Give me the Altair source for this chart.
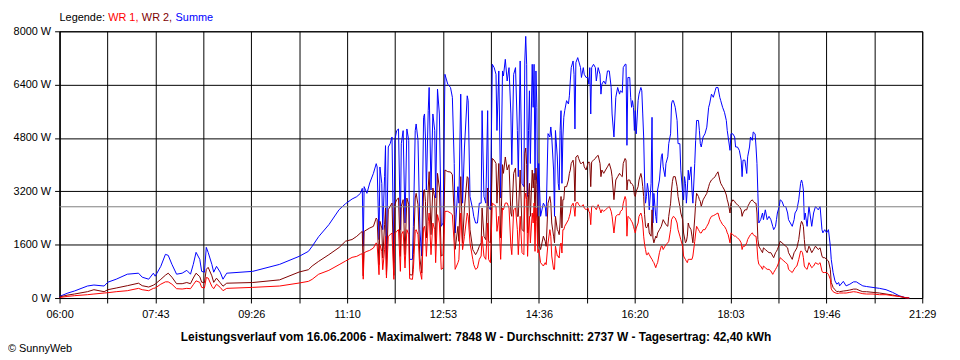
import json
import altair as alt
import pandas as pd

# ---- data (minutes after 06:00, watts) ----
minutes = [
    0, 1, 9, 16, 30, 37, 48, 52, 61, 73, 85, 89, 96, 101, 103, 109, 114, 117, 121, 126,
    132, 137, 141, 144, 147, 151, 153, 156, 158, 160, 164, 166, 169, 173, 176, 180, 208, 237, 258, 268,
    272, 279, 290, 301, 308, 315,
    320, 324, 326, 327, 328, 331, 334, 338, 341, 342, 344, 345, 347, 348, 350, 351, 352, 354, 356, 358,
    360, 361, 363, 365, 367, 368, 370, 372, 374, 376, 377, 380, 381, 383, 384, 386, 388, 390, 392,
    393, 394, 395, 397, 398, 400, 402, 404, 405, 407, 409, 411, 413, 415, 418, 421, 423, 425, 426, 429,
    430, 432, 434, 436, 439, 440, 442, 445, 446, 448, 450, 452, 454, 455, 457, 459, 461, 462, 464, 466,
    468, 470, 471, 473, 475, 477, 478, 480, 482, 484, 486, 487, 489, 491, 493, 494, 496, 498, 500,
    501, 502, 503, 504, 505, 506, 507, 509, 510, 511, 512, 513, 514, 515, 516, 517, 518, 521, 523, 524,
    526, 528, 529, 530, 532, 533, 534, 536, 537, 538, 539, 540, 541, 542, 543, 544, 546, 548, 549, 550,
    551, 553, 554, 555, 556, 558, 559, 561, 562, 564, 565, 567, 569, 570, 571, 572, 573, 575, 577, 578,
    580, 582, 583, 584, 586, 588, 590, 592, 594, 595, 597, 599, 601, 603, 604,
    606, 607, 609, 610, 611, 612, 614, 615, 616, 617, 618, 619, 620, 621, 623, 624, 626, 627, 628, 629,
    630, 631, 632, 633, 634, 635, 637, 638, 639, 640, 642, 643, 644, 646, 648, 649, 650, 652, 653, 655,
    656, 658, 659, 660, 661, 663, 665, 666, 668, 669, 671, 672, 673, 674, 675, 676, 677, 678, 680, 681,
    682, 684, 685, 686, 688, 689, 690, 691, 693, 695, 697, 699, 700, 702, 704, 706, 707, 709,
    711, 712, 714, 716, 718, 719, 720, 722, 723, 725, 727, 728, 730, 732, 734, 735, 736, 738, 740, 741,
    743, 744, 746, 747, 749, 750, 751, 752, 753, 755, 757, 758, 760, 762, 764, 766, 768, 769, 771, 772,
    773, 775, 776, 778, 780, 782, 784, 785, 787, 789, 791, 792, 794, 796, 798, 799, 800, 801, 802, 803,
    805, 807, 808, 810, 812, 814,
    817, 819, 821, 822, 824, 826, 828, 830, 831, 833, 835, 837, 839, 840, 844, 847, 851, 855, 858, 862,
    865, 869, 876, 883, 890, 897, 904, 911, 915,
]

summe = [
    30, 60, 150, 210, 360, 390, 360, 475, 565, 715, 745, 625, 565, 745, 655, 950, 1310, 1280, 1010, 715,
    745, 830, 715, 1010, 1370, 1160, 800, 775, 1520, 1370, 1010, 775, 950, 775, 565, 745, 800, 1010, 1250, 1400,
    1550, 1840, 2200, 2650, 2830, 2970,
    3040, 3140, 3290, 1555, 3340, 3140, 3450, 3740, 4030, 3930, 1750, 3930, 3440, 2050, 3640, 4570, 1160, 4530, 4630, 4830,
    1060, 4730, 5020, 5070, 2050, 4630, 5020, 2250, 5070, 4730, 1160, 1160, 2150, 5020, 5220, 4730, 2050, 1260, 5420,
    5520, 4830, 3240, 5620, 6315, 3240, 5520, 5025, 3000, 6265, 5520, 2150, 2250, 6710, 6415, 6315, 6020, 4035, 1950, 3340,
    2845, 6115, 2845, 4500, 6065, 5920, 3045, 2645, 2450, 2250, 2250, 2845, 2845, 5620, 3045, 2845, 5620, 2745, 2645, 7010,
    6910, 6710, 5025, 6810, 3000, 6810, 6660, 7160, 6510, 6910, 5520, 4000, 6710, 6910, 5025, 3640, 7110, 3440, 3340,
    7110, 7848, 7010, 3045, 5025, 6215, 4035, 7010, 5720, 7010, 3540, 6810, 5720, 2450, 4035, 3240, 2450, 2845, 2745, 2450,
    4930, 4830, 5130, 4830, 3840, 2450, 5025, 4230, 3440, 3240, 5025, 5620, 3440, 4830, 5420, 5620, 5920, 5820, 6065, 6510,
    6910, 7110, 6710, 5070, 7060, 7210, 7110, 6910, 6615, 6910, 6710, 6615, 6615, 6415, 6910, 5520, 6910, 7010, 6910, 6510,
    6910, 6710, 6115, 6415, 6510, 6415, 6810, 6810, 6315, 5520, 4830, 6020, 6315, 6115, 6215,
    6165, 6910, 7010, 7010, 4580, 6615, 6615, 6020, 5720, 5920, 5720, 5025, 5620, 4925, 5920, 6115, 6315, 6215, 5520, 4830,
    3540, 2845, 3045, 3440, 3240, 2645, 3440, 5420, 2250, 3140, 2450, 2250, 3240, 3540, 4235, 4330, 3935, 3640, 4035, 4235,
    4630, 4925, 5820, 5920, 5920, 5720, 5325, 4630, 4630, 3835, 3140, 2945, 3640, 3440, 2845, 3240, 3835, 3540, 3935, 3240,
    2845, 4035, 4730, 5325, 5325, 5025, 4630, 4530, 4830, 4925, 5125, 5720, 5820, 6115, 6020, 6215, 6315, 6315,
    6015, 5920, 5720, 5570, 5325, 5025, 4830, 4430, 4925, 4925, 4830, 4530, 4530, 4430, 4135, 3640, 4135, 4135, 3735, 4235,
    4530, 4830, 4730, 4980, 4925, 4530, 4035, 3140, 2250, 2350, 2550, 2350, 2645, 2350, 2450, 2350, 2150, 2050, 2150, 2350,
    2550, 2745, 2945, 2900, 2745, 2745, 2550, 2350, 2250, 2150, 2350, 2550, 2645, 2945, 3440, 3540, 3440, 3240, 2350, 2550,
    2150, 2745, 2550, 2150, 2550, 2745,
    2645, 2745, 2050, 1955, 2050, 1955, 2050, 1555, 1160, 765, 515, 415, 465, 365, 500, 365, 415, 485, 485, 415,
    365, 345, 317, 290, 250, 170, 70, 10, 0,
]

wr2 = [
    20, 40, 90, 120, 190, 250, 190, 250, 300, 370, 445, 370, 330, 385, 420, 560, 685, 745, 625, 430,
    430, 465, 430, 600, 745, 640, 475, 460, 860, 920, 665, 470, 595, 460, 355, 445, 465, 545, 780, 850,
    960, 1100, 1300, 1515, 1705, 1755,
    1850, 1950, 2000, 665, 2000, 2050, 2100, 2150, 2400, 2350, 1000, 2300, 2100, 1200, 2200, 2700, 700, 2650, 2750, 2850,
    680, 2800, 2950, 3000, 1250, 2750, 2950, 1300, 3000, 2800, 700, 690, 1300, 3000, 3140, 2800, 1200, 750, 3200,
    3250, 2900, 1800, 3300, 3790, 1900, 3300, 3000, 1560, 3740, 3300, 1260, 1300, 3840, 3790, 3780, 3700, 2500, 1460, 2150,
    1700, 3640, 1655, 2700, 3640, 3600, 2050, 1450, 1400, 1300, 1400, 1550, 1655, 2700, 1850, 1750, 3300, 1700, 1655, 4185,
    4135, 4035, 2845, 4035, 1800, 4000, 3740, 4230, 3840, 4000, 2550, 2450, 3740, 3900, 2450, 2450, 3840, 2050, 2000,
    4340, 4500, 4000, 1950, 3100, 3440, 2450, 3840, 3300, 3740, 2150, 3900, 3400, 1555, 2450, 1555, 1455, 1855, 1700, 1550,
    2845, 3045, 2845, 2250, 1855, 1655, 2450, 2050, 2000, 1900, 2250, 3045, 2100, 2950, 2950, 3340, 3340, 3540, 3740, 3840,
    4035, 4135, 3900, 2900, 4230, 4280, 4185, 4035, 4035, 4085, 3935, 3840, 4035, 4085, 4035, 3340, 4085, 4135, 4185, 4235,
    4280, 4035, 3640, 3840, 3740, 3840, 3935, 4035, 3840, 3640, 2950, 3540, 3640, 3740, 3690,
    3640, 4035, 4185, 4135, 3240, 3540, 3540, 3440, 3440, 3400, 3340, 3100, 3045, 3200, 3340, 3540, 3735, 3600, 3340, 3045,
    2500, 2150, 2100, 2150, 2250, 1950, 1855, 2645, 1800, 1655, 1855, 1800, 1950, 2050, 2150, 2250, 2350, 2250, 2200, 2150,
    2450, 2845, 3240, 3500, 3640, 3640, 3340, 3045, 2745, 2550, 2350, 1950, 1800, 1655, 1700, 1855, 2250, 2150, 2050, 1855,
    1655, 2400, 2845, 3140, 3045, 2950, 2900, 2745, 2945, 3045, 3140, 3340, 3440, 3540, 3590, 3640, 3700, 3785,
    3540, 3440, 3340, 3240, 3090, 2945, 2850, 2550, 2845, 2945, 2900, 2845, 2800, 2745, 2645, 2450, 2550, 2645, 2645, 2745,
    2845, 2900, 2945, 2900, 2845, 2845, 2550, 1755, 1555, 1455, 1360, 1505, 1455, 1405, 1360, 1360, 1260, 1210, 1360, 1400,
    1455, 1605, 1705, 1655, 1605, 1555, 1505, 1360, 1260, 1160, 1360, 1405, 1505, 1755, 2200, 2300, 2250, 2150, 1755, 1455,
    1360, 1555, 1505, 1360, 1455, 1555,
    1455, 1505, 1260, 1210, 1210, 1160, 1110, 860, 470, 317, 250, 190, 200, 190, 210, 220, 240, 268, 268, 220,
    190, 190, 170, 150, 120, 90, 50, 10, 0,
]

wr1 = [
    10, 20, 50, 70, 100, 120, 150, 160, 190, 220, 290, 250, 220, 290, 300, 415, 485, 485, 415, 280,
    270, 290, 280, 400, 515, 470, 320, 300, 615, 600, 350, 280, 415, 320, 220, 290, 320, 360, 450, 500,
    560, 714, 830, 1000, 1110, 1220,
    1250, 1310, 1330, 565, 1360, 1400, 1430, 1500, 1655, 1600, 700, 1600, 1400, 850, 1450, 1850, 600, 1850, 1900, 1950,
    560, 1930, 2000, 2050, 800, 1900, 2000, 900, 2050, 1900, 580, 560, 850, 2000, 2050, 1900, 850, 560, 2100,
    2150, 1950, 1250, 2300, 2550, 1300, 2250, 2050, 1060, 2500, 2250, 860, 900, 2600, 2600, 2550, 2500, 1600, 860, 1060,
    1150, 2550, 1450, 1850, 2550, 2450, 1650, 1160, 1000, 860, 900, 1160, 1260, 1850, 1255, 1160, 2250, 1160, 1060, 2845,
    2800, 2750, 2000, 2450, 1160, 2700, 2650, 2850, 2850, 2700, 1555, 1300, 2650, 2700, 2050, 1300, 2450, 1360, 1300,
    2950, 3150, 2950, 1250, 2100, 2450, 1650, 2550, 2250, 2850, 1400, 2700, 2300, 1360, 1455, 1260, 1060, 960, 1060, 1000,
    1650, 2050, 1855, 1260, 860, 860, 1555, 1260, 1260, 1200, 1555, 1650, 1350, 2050, 2050, 2150, 2250, 2350, 2450, 2550,
    2750, 2845, 2700, 2450, 2850, 2870, 2800, 2750, 2750, 2800, 2700, 2650, 2700, 2600, 2550, 2200, 2750, 2750, 2700, 2650,
    2800, 2650, 2550, 2650, 2600, 2650, 2700, 2750, 2600, 2450, 1950, 2450, 2500, 2500, 2600,
    2645, 2845, 3045, 2950, 1855, 2450, 2400, 2350, 2300, 2250, 2150, 2050, 1950, 2100, 2250, 2450, 2550, 2450, 2250, 1855,
    1600, 1455, 1300, 1300, 1360, 1300, 1200, 1160, 1100, 1060, 910, 1000, 1060, 1360, 1555, 1555, 1455, 1555, 1600, 1655,
    1700, 2050, 2350, 2400, 2450, 2400, 2250, 2050, 1855, 1750, 1555, 1260, 1200, 1160, 1100, 1060, 1160, 1160, 1160, 1160,
    1260, 1700, 1950, 2150, 2050, 2000, 1950, 1950, 2050, 2050, 2150, 2250, 2350, 2450, 2470, 2500, 2520, 2550,
    2350, 2300, 2200, 2150, 2050, 1955, 1900, 1655, 1955, 1900, 1855, 1855, 1800, 1755, 1655, 1455, 1555, 1555, 1655, 1755,
    1855, 1900, 1955, 1900, 1855, 1855, 1555, 1160, 1010, 960, 860, 960, 910, 860, 860, 810, 710, 765, 860, 910,
    960, 1110, 1210, 1160, 1110, 1060, 1010, 860, 810, 765, 860, 910, 960, 1160, 1405, 1405, 1360, 1210, 960, 910,
    860, 1060, 1010, 910, 960, 1060,
    1010, 1060, 810, 765, 765, 765, 714, 560, 270, 190, 160, 139, 140, 150, 150, 150, 170, 190, 180, 150,
    130, 120, 120, 100, 100, 70, 50, 10, 0,
]

series_names = ["WR 1", "WR 2", "Summe"]
series_colors = ["#FF0000", "#800000", "#0000FF"]
average_w = 2737
tick_labels = ["06:00", "07:43", "09:26", "11:10", "12:53", "14:36", "16:20", "18:03", "19:46", "21:29"]
y_ticks = [0, 1600, 3200, 4800, 6400, 8000]
day_span_min = 929
title_text = ("Leistungsverlauf vom 16.06.2006 - Maximalwert: 7848 W - "
              "Durchschnitt: 2737 W - Tagesertrag: 42,40 kWh")
copyright_text = "\u00a9 SunnyWeb"

# ---- build table ----
assert len(minutes) == len(summe) == len(wr1) == len(wr2)
rows = []
for name, vals in zip(series_names, [wr1, wr2, summe]):
    for t, v in zip(minutes, vals):
        rows.append({"t": t, "w": v, "series": name})
df = pd.DataFrame(rows)

step = day_span_min / 18
grid_vals = [round(i * step, 3) for i in range(19)]
lab_arr = []
for i in range(19):
    lab_arr.append(tick_labels[i // 2] if i % 2 == 0 else "")
label_expr = f"{json.dumps(lab_arr)}[round(datum.value / {step})]"

FONT = "Liberation Sans"

x_enc = alt.X("t:Q", scale=alt.Scale(domain=[0, day_span_min], nice=False, zero=False),
              axis=alt.Axis(values=grid_vals, labelExpr=label_expr, title=None, grid=True,
                            labelFlush=False, labelOverlap=False, tickSize=5, labelPadding=6))
y_enc = alt.Y("w:Q", scale=alt.Scale(domain=[0, 8000], nice=False),
              axis=alt.Axis(values=y_ticks, labelExpr="datum.value + ' W'", title=None, grid=True,
                            labelFlush=False, tickSize=5, labelPadding=4))

base = alt.Chart(df).encode(x=x_enc, y=y_enc)

layers = []
for name, col in zip(["Summe", "WR 2", "WR 1"], [series_colors[2], series_colors[1], series_colors[0]]):
    layers.append(
        base.transform_filter(alt.datum.series == name)
        .mark_line(color=col, strokeWidth=1, interpolate="linear")
    )

avg_rule = alt.Chart(pd.DataFrame({"w": [average_w]})).mark_rule(
    color="#808080", strokeWidth=1).encode(y=y_enc)
layers.append(avg_rule)

# legend texts
legend_parts = [("Legende:", "black", 0), ("WR 1,", series_colors[0], 49),
                ("WR 2,", series_colors[1], 83), ("Summe", series_colors[2], 117)]
for txt, col, dx in legend_parts:
    layers.append(
        alt.Chart(pd.DataFrame({"s": [txt]})).mark_text(
            align="left", baseline="middle", font=FONT, fontSize=11, color=col
        ).encode(text="s:N", x=alt.value(dx), y=alt.value(-13))
    )

layers.append(
    alt.Chart(pd.DataFrame({"s": [title_text]})).mark_text(
        align="center", baseline="middle", font=FONT, fontSize=12, fontWeight="bold", color="black"
    ).encode(text="s:N", x=alt.value(420), y=alt.value(308))
)
layers.append(
    alt.Chart(pd.DataFrame({"s": [copyright_text]})).mark_text(
        align="left", baseline="middle", font=FONT, fontSize=11, color="black"
    ).encode(text="s:N", x=alt.value(-52), y=alt.value(320))
)

chart = alt.layer(*layers).properties(
    width=870, height=269,
    padding={"left": 52, "top": 22, "right": 30, "bottom": 60},
    autosize=alt.AutoSizeParams(type="none"),
    background="white",
).configure_view(stroke="black", strokeWidth=1).configure_axis(
    domainColor="black", domainWidth=1, gridColor="black", gridOpacity=1, gridWidth=1,
    tickColor="black", tickWidth=1, labelColor="black", labelFont=FONT, labelFontSize=11,
)

chart.save("out.html", embed_options={"renderer": "svg", "actions": False})
